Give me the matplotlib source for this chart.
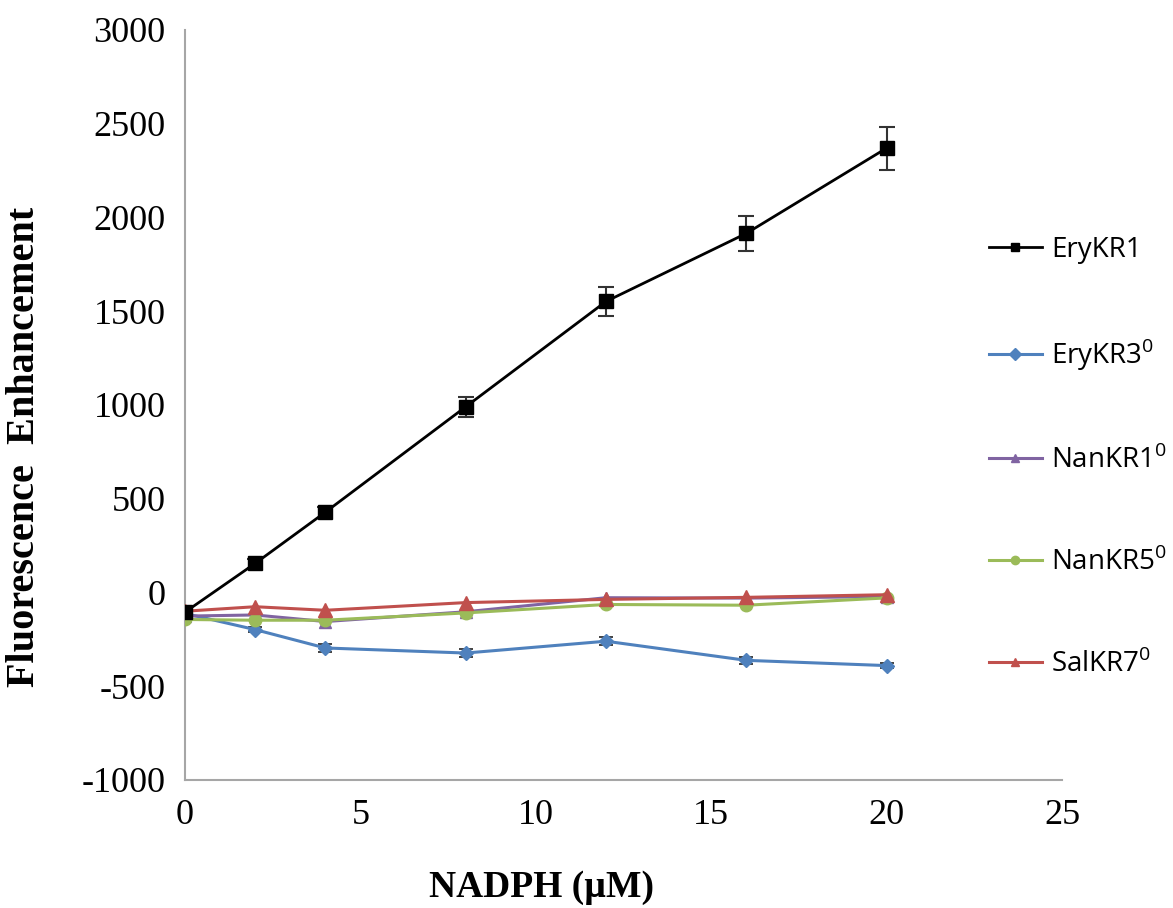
import matplotlib.pyplot as plt

plt.rcParams["axes.unicode_minus"] = False

# NADPH concentrations (uM)
nadph = [0, 2, 4, 8, 12, 16, 20]

# Fluorescence enhancement per KR
erykr1 = [-105, 155, 428, 990, 1552, 1915, 2370]
erykr1_err = [20, 25, 30, 55, 75, 95, 115]
erykr3 = [-112, -198, -296, -323, -260, -362, -390]
erykr3_err = [15, 15, 20, 20, 20, 20, 15]
nankr1 = [-126, -120, -155, -103, -28, -30, -22]
nankr5 = [-144, -148, -148, -109, -64, -68, -29]
salkr7 = [-100, -76, -95, -54, -37, -26, -12]

labels = ["EryKR1", "EryKR3$^{\\mathregular{0}}$", "NanKR1$^{\\mathregular{0}}$",
          "NanKR5$^{\\mathregular{0}}$", "SalKR7$^{\\mathregular{0}}$"]

fig = plt.figure(figsize=(11.73, 9.08), dpi=100)
ax = fig.add_axes([0.1577, 0.141, 0.7477, 0.826])

# error bars
ax.errorbar(nadph, erykr1, yerr=erykr1_err, fmt="none", ecolor="#333333",
            elinewidth=1.5, capsize=6, capthick=1.5, zorder=4)
ax.errorbar(nadph, erykr3, yerr=erykr3_err, fmt="none", ecolor="#222222",
            elinewidth=1.2, capsize=5, capthick=1.2, zorder=2)

# lines
ax.plot(nadph, erykr1, color="black", marker="s", markersize=10, linewidth=2,
        label=labels[0], zorder=5)
ax.plot(nadph, erykr3, color="#4F81BD", marker="D", markersize=7, linewidth=2.2,
        label=labels[1], zorder=3)
ax.plot(nadph, nankr1, color="#8064A2", marker="^", markersize=9, linewidth=2.2,
        label=labels[2], zorder=3)
ax.plot(nadph, nankr5, color="#9BBB59", marker="o", markersize=9, linewidth=2.2,
        label=labels[3], zorder=3)
ax.plot(nadph, salkr7, color="#C0504D", marker="^", markersize=10, linewidth=2.2,
        label=labels[4], zorder=4)

ax.set_xlim(0, 25)
ax.set_ylim(-1000, 3000)
ax.set_xticks([0, 5, 10, 15, 20, 25])
ax.set_yticks(range(-1000, 3001, 500))

for s in ["top", "right"]:
    ax.spines[s].set_visible(False)
for s in ["left", "bottom"]:
    ax.spines[s].set_color("#A6A6A6")
    ax.spines[s].set_linewidth(1.5)

ax.tick_params(length=0, labelsize=26, pad=14)
for t in ax.get_xticklabels() + ax.get_yticklabels():
    t.set_family("Liberation Serif")

ax.set_xlabel("NADPH (\u00b5M)", fontsize=27, fontweight="bold",
              family="Liberation Serif")
ax.xaxis.set_label_coords(0.407, -0.12)
ax.set_ylabel("Fluorescence  Enhancement", fontsize=29, fontweight="bold",
              family="Liberation Serif")
ax.yaxis.set_label_coords(-0.162, 0.444)

leg = ax.legend(loc="upper left", bbox_to_anchor=(0.904, 0.74), frameon=False,
                prop={"family": "Open Sans", "size": 20}, labelspacing=2.62,
                handlelength=1.9, handletextpad=0.35, borderaxespad=0)
for h in leg.get_lines():
    h.set_markersize(6)

plt.savefig("out.png", dpi=100)
